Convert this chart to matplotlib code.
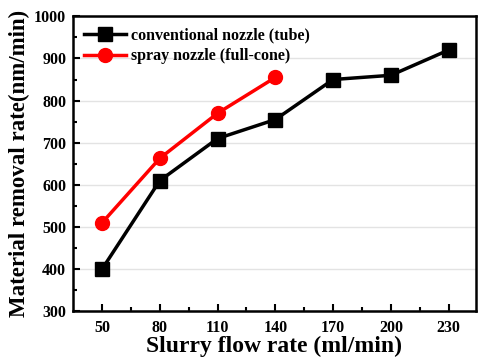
import numpy as np
import matplotlib.pyplot as plt

plt.rcParams['font.family'] = ['Liberation Serif', 'DejaVu Serif']
plt.rcParams['font.weight'] = 'bold'

# datos
caudal = [50, 80, 110, 140, 170, 200, 230]
tasa_tubo = [400, 610, 710, 755, 850, 860, 920]
caudal_spray = [50, 80, 110, 140]
tasa_spray = [510, 663, 770, 855]

fig, ax = plt.subplots(figsize=(4.78, 3.62), dpi=100)
fig.subplots_adjust(left=0.153, right=0.995, top=0.955, bottom=0.14)

ax.plot(caudal, tasa_tubo, color='black', marker='s', markersize=10, linewidth=2.5,
        label='conventional nozzle (tube)')
ax.plot(caudal_spray, tasa_spray, color='red', marker='o', markersize=10, linewidth=2.5,
        label='spray nozzle (full-cone)')

ax.set_xlim(35, 244)
ax.set_ylim(300, 1000)
ax.set_xticks(caudal)
ax.set_xticks(np.arange(65, 230, 30), minor=True)
ax.set_yticks(np.arange(300, 1001, 100))
ax.set_yticks(np.arange(350, 1000, 100), minor=True)
ax.tick_params(which='both', direction='in', width=1.5, labelsize=11.5)
ax.tick_params(which='major', length=5)
ax.tick_params(which='minor', length=3)
ax.tick_params(axis='y', pad=5)
ax.tick_params(axis='x', pad=6)
ax.yaxis.grid(True, color='#e3e3e3', linewidth=1)
ax.set_axisbelow(True)
for s in ax.spines.values():
    s.set_linewidth(1.8)

ax.set_xlabel('Slurry flow rate (ml/min)', fontsize=17, fontweight='bold', labelpad=0)
ax.set_ylabel('Material removal rate(nm/min)', fontsize=16.5, fontweight='bold', labelpad=3)

leg = ax.legend(loc='upper left', frameon=False, fontsize=11.5, handlelength=2.6,
                borderaxespad=0.3, labelspacing=0.3, handletextpad=0.3)

plt.savefig('out.png')
